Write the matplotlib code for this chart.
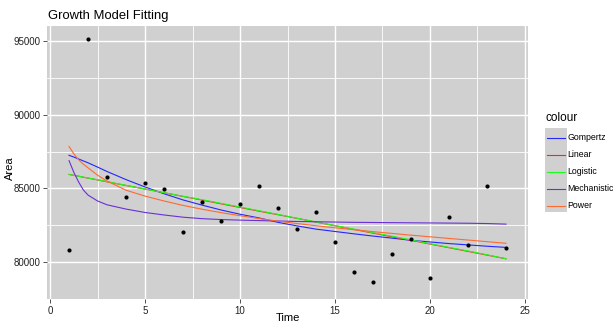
import matplotlib
matplotlib.use("Agg")
import matplotlib.pyplot as plt
from matplotlib.lines import Line2D
from matplotlib.patches import Rectangle

plt.rcParams['font.family'] = ['Liberation Sans', 'DejaVu Sans']

# observed data
time_obs = list(range(1, 25))
area_obs = [80850, 95170, 85750, 84410, 85350, 84990, 82070, 84080, 82810, 83920,
            85150, 83640, 82270, 83370, 81340, 79310, 78640, 80520, 81600, 78910,
            83040, 81160, 85190, 80940]

# fitted curves
time_fit = [1, 1.25, 1.5, 1.75, 2, 2.5, 3] + list(range(4, 25))
gompertz = [87246, 87130, 87000, 86870, 86740, 86450, 86150,
            85600, 85100, 84640, 84220, 83870, 83540, 83250, 83000, 82700, 82460,
            82240, 82080, 81920, 81770, 81630, 81480, 81370, 81260, 81170, 81080, 81000]
linear = [85950, 85890, 85830, 85760, 85700, 85580, 85450,
          85200, 84960, 84710, 84460, 84210, 83960, 83710, 83460, 83220, 82970,
          82720, 82470, 82220, 81970, 81720, 81480, 81230, 80980, 80730, 80480, 80230]
logistic = [85950, 85890, 85830, 85770, 85710, 85590, 85460,
            85210, 84960, 84710, 84470, 84240, 83990, 83740, 83490, 83240, 82980,
            82720, 82480, 82240, 82000, 81760, 81510, 81250, 81000, 80760, 80500, 80230]
mechanistic = [86885, 86100, 85450, 84900, 84550, 84150, 83890,
               83600, 83370, 83200, 83050, 82950, 82890, 82850, 82820, 82790, 82760,
               82740, 82720, 82700, 82690, 82680, 82670, 82660, 82650, 82640, 82620, 82580]
power = [87848, 87350, 86950, 86650, 86400, 85900, 85500,
         84880, 84480, 84150, 83850, 83590, 83360, 83150, 82960, 82780, 82620,
         82470, 82330, 82200, 82070, 81950, 81830, 81720, 81610, 81500, 81390, 81280]

models = ["Gompertz", "Linear", "Logistic", "Mechanistic", "Power"]
curves = [gompertz, linear, logistic, mechanistic, power]
colors = ["#2626ff", "#ff2020", "#1aff1a", "#6a2fd8", "#ff6a33"]

W, H = 614, 326
fig = plt.figure(figsize=(W / 100, H / 100), dpi=100)
ax = fig.add_axes([47 / W, 27 / H, (528 - 47) / W, (299 - 26) / H])

panel = "#d0d0d0"
ax.set_facecolor(panel)
for s in ax.spines.values():
    s.set_visible(False)

ax.set_xlim(-0.16, 25.16)
ax.set_ylim(77770, 96020)
ax.set_xticks([0, 5, 10, 15, 20, 25])
ax.set_xticks([2.5, 7.5, 12.5, 17.5, 22.5], minor=True)
ax.set_yticks([80000, 85000, 90000, 95000])
ax.set_yticks([77500, 82500, 87500, 92500], minor=True)
ax.grid(which="major", color="white", linewidth=1.0)
ax.grid(which="minor", color="white", linewidth=0.6)
ax.set_axisbelow(True)
ax.tick_params(which="major", length=3, width=0.6, color="#333333",
               labelsize=7, labelcolor="#222222", pad=2)
ax.tick_params(which="minor", length=0)

for name, vals, c in zip(models, curves, colors):
    ax.plot(time_fit, vals, color=c, linewidth=0.8, label=name)

ax.scatter(time_obs, area_obs, s=9, color="black", zorder=5, linewidths=0)

ax.set_xlabel("Time", fontsize=8, va="center")
ax.set_ylabel("Area", fontsize=8, va="center")
ax.xaxis.set_label_coords((288 - 47) / 481, (299 - 318) / 273)
ax.yaxis.set_label_coords((10 - 47) / 481, (299 - 168) / 273)
fig.text(48 / W, 1 - 16 / H, "Growth Model Fitting", fontsize=9.4,
         ha="left", va="center")

# legend drawn by hand to mimic ggplot key boxes
fig.text(545 / W, 1 - 118 / H, "colour", fontsize=8.5, ha="left", va="center")
fig.add_artist(Rectangle((545 / W, 1 - 212 / H), 22 / W, 84 / H,
                         transform=fig.transFigure, facecolor=panel,
                         edgecolor="none"))
for i, (name, c) in enumerate(zip(models, colors)):
    yy = 1 - (137.5 + i * 17) / H
    fig.add_artist(Line2D([547 / W, 565 / W], [yy, yy], color=c,
                          linewidth=0.8, transform=fig.transFigure))
    fig.text(567 / W, yy, name, fontsize=6.3, ha="left", va="center")

fig.savefig("out.png", dpi=100)
